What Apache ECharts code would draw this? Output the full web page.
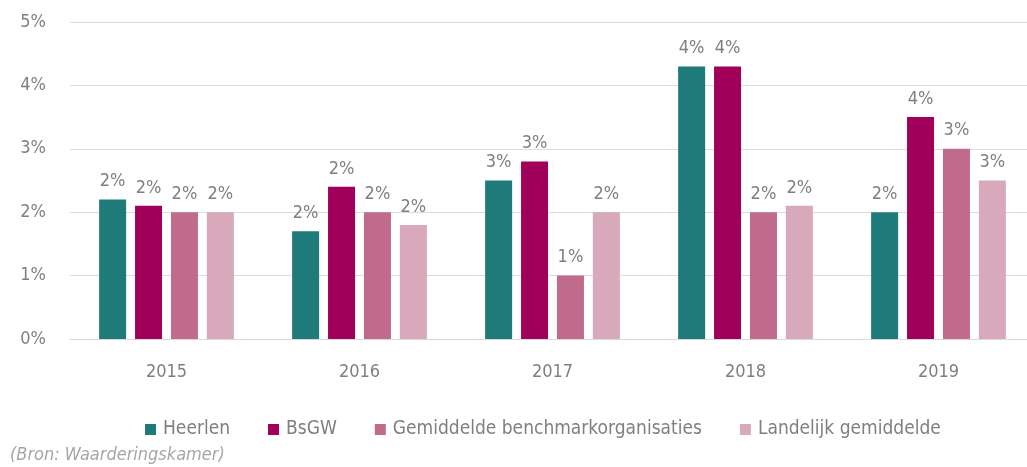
<!DOCTYPE html>
<html>
<head>
<meta charset="utf-8">
<script src="https://cdn.jsdelivr.net/npm/echarts@6/dist/echarts.min.js"></script>
<style>
  html, body { margin: 0; padding: 0; background: #fff; overflow: hidden; }
  #chart { width: 1027px; height: 467px; }
</style>
</head>
<body>
<div id="chart"></div>
<script>
// jaren
const years = ['2015', '2016', '2017', '2018', '2019']

// percentages per reeks
const heerlen = [2.2, 1.7, 2.5, 4.3, 2.0]
const bsgw = [2.1, 2.4, 2.8, 4.3, 3.5]
const benchmark = [2.0, 2.0, 1.0, 2.0, 3.0]
const landelijk = [2.0, 1.8, 2.0, 2.1, 2.5]

const seriesNames = ['Heerlen', 'BsGW', 'Gemiddelde benchmarkorganisaties', 'Landelijk gemiddelde']
const yTicks = [0, 1, 2, 3, 4, 5]

const colors = ['#1f7a7a', '#a0005a', '#c06a8c', '#d8a8bb']
const fontFamily = '"DejaVu Sans Condensed", "Liberation Sans Narrow", "Roboto", sans-serif'
const textColor = '#7f7f7f'

const chart = echarts.init(document.getElementById('chart'))

function makeSeries(name, data, color) {
  return {
    name: name,
    type: 'bar',
    data: data,
    barWidth: 27,
    barGap: '33%',
    itemStyle: { color: color },
    label: {
      show: true,
      position: 'top',
      distance: 9,
      color: textColor,
      fontFamily: fontFamily,
      fontSize: 18,
      formatter: p => Math.round(p.value) + '%'
    }
  }
}

const option = {
  animation: false,
  backgroundColor: '#fff',
  color: colors,
  grid: {
    left: 70,
    width: 965,
    top: 22,
    bottom: 128,
    outerBoundsMode: 'none'
  },
  legend: {
    data: seriesNames,
    left: 140,
    top: 415,
    itemWidth: 11,
    itemHeight: 11,
    itemGap: 38,
    icon: 'rect',
    textStyle: { color: textColor, fontFamily: fontFamily, fontSize: 19, padding: [0, 0, 0, 2] }
  },
  graphic: [
    {
      type: 'text',
      left: 10,
      top: 446,
      style: {
        text: '(Bron: Waarderingskamer)',
        fill: '#a6a6a6',
        font: 'italic 18px ' + fontFamily
      }
    }
  ],
  xAxis: {
    type: 'category',
    data: years,
    axisLine: { show: true, lineStyle: { color: '#d9d9d9' } },
    axisTick: { show: false },
    axisLabel: {
      color: textColor,
      fontFamily: fontFamily,
      fontSize: 18,
      margin: 24
    }
  },
  yAxis: {
    type: 'value',
    min: yTicks[0],
    max: yTicks[yTicks.length - 1],
    interval: 1,
    axisLine: { show: false },
    axisTick: { show: false },
    splitLine: { lineStyle: { color: '#dcdcdc', width: 1 } },
    axisLabel: {
      color: textColor,
      fontFamily: fontFamily,
      fontSize: 18,
      margin: 24,
      formatter: v => v + '%'
    }
  },
  series: [
    makeSeries(seriesNames[0], heerlen, colors[0]),
    makeSeries(seriesNames[1], bsgw, colors[1]),
    makeSeries(seriesNames[2], benchmark, colors[2]),
    makeSeries(seriesNames[3], landelijk, colors[3])
  ]
}

chart.setOption(option)
</script>
</body>
</html>
